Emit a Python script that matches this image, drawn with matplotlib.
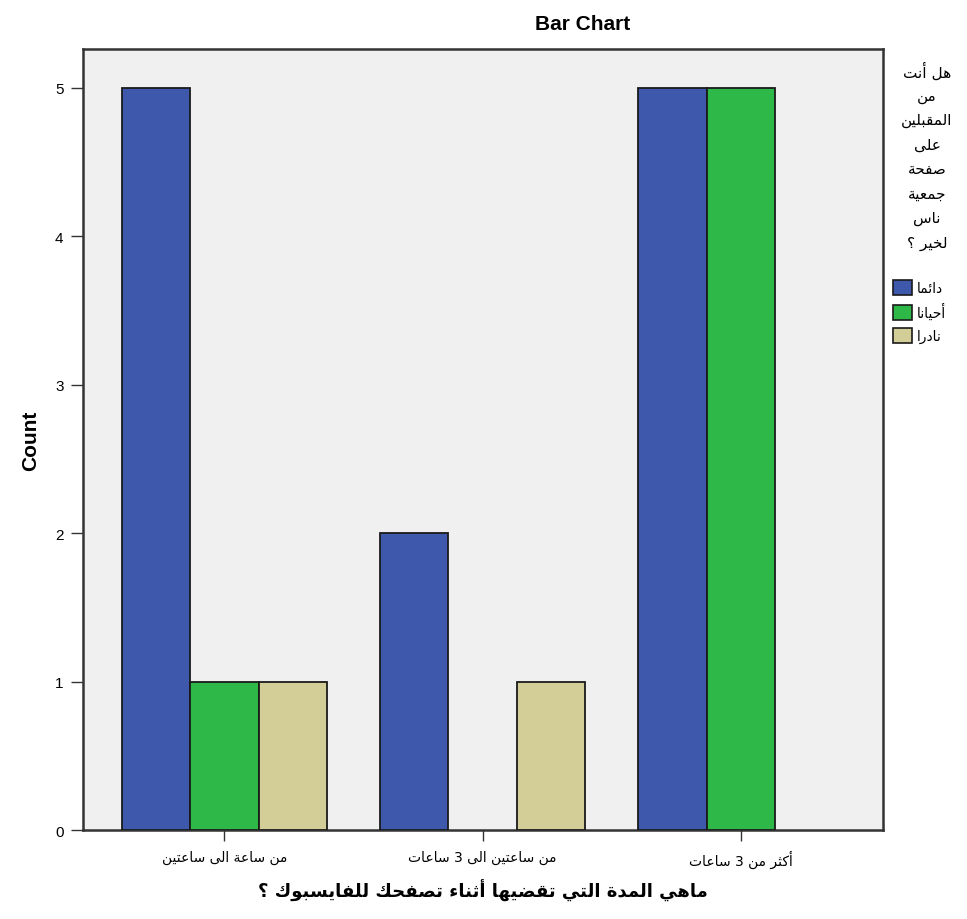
import numpy as np
import matplotlib
matplotlib.use("Agg")
import matplotlib.pyplot as plt
from matplotlib.patches import Patch

# data
categories = ["من ساعة الى ساعتين", "من ساعتين الى 3 ساعات", "أكثر من 3 ساعات"]
series_names = ["دائما", "أحيانا", "نادرا"]
always = [5, 2, 5]
sometimes = [1, 0, 5]
rarely = [1, 1, 0]
legend_title_lines = ["هل أنت", "من", "المقبلين", "على", "صفحة", "جمعية", "ناس", "لخير ؟"]
x_title = "ماهي المدة التي تقضيها أثناء تصفحك للفايسبوك ؟"

colors = ["#3E58AC", "#2EB848", "#D3CE97"]

# minimal arabic shaping: matplotlib does no joining / rtl on its own
DUAL = {'ئ': 0xFE89, 'ب': 0xFE8F, 'ت': 0xFE95, 'ث': 0xFE99, 'ج': 0xFE9D, 'ح': 0xFEA1,
        'خ': 0xFEA5, 'س': 0xFEB1, 'ش': 0xFEB5, 'ص': 0xFEB9, 'ض': 0xFEBD, 'ط': 0xFEC1,
        'ظ': 0xFEC5, 'ع': 0xFEC9, 'غ': 0xFECD, 'ف': 0xFED1, 'ق': 0xFED5, 'ك': 0xFED9,
        'ل': 0xFEDD, 'م': 0xFEE1, 'ن': 0xFEE5, 'ه': 0xFEE9, 'ي': 0xFEF1}
RIGHT = {'آ': 0xFE81, 'أ': 0xFE83, 'ؤ': 0xFE85, 'إ': 0xFE87, 'ا': 0xFE8D, 'ة': 0xFE93,
         'د': 0xFEA9, 'ذ': 0xFEAB, 'ر': 0xFEAD, 'ز': 0xFEAF, 'و': 0xFEED, 'ى': 0xFEEF}
LAMALEF = {'آ': 0xFEF5, 'أ': 0xFEF7, 'إ': 0xFEF9, 'ا': 0xFEFB}


def ar(s):
    toks = []
    i = 0
    while i < len(s):
        c = s[i]
        if c == 'ل' and i + 1 < len(s) and s[i + 1] in LAMALEF:
            toks.append((LAMALEF[s[i + 1]], 'R'))
            i += 2
            continue
        if c in DUAL:
            toks.append((DUAL[c], 'D'))
        elif c in RIGHT:
            toks.append((RIGHT[c], 'R'))
        else:
            toks.append((c, 'N'))
        i += 1
    out = []
    for j, (base, kind) in enumerate(toks):
        if kind == 'N':
            out.append(base)
            continue
        prev_j = j > 0 and toks[j - 1][1] == 'D'
        next_j = kind == 'D' and j + 1 < len(toks) and toks[j + 1][1] in 'DR'
        if kind == 'R':
            off = 1 if prev_j else 0
        else:
            off = {(False, False): 0, (True, False): 1, (False, True): 2, (True, True): 3}[(prev_j, next_j)]
        out.append(chr(base + off))
    return ''.join(out)[::-1]


AR = ['DejaVu Sans']
LAT = ['Liberation Sans', 'DejaVu Sans']

fig = plt.figure(figsize=(9.67, 9.2), dpi=100)
ax = fig.add_axes([0.0858, 0.0967, 0.9131 - 0.0858, 0.9457 - 0.0967])
ax.set_facecolor('#F0F0F0')

x = np.arange(len(categories))
w = 0.265
for k, vals in enumerate([always, sometimes, rarely]):
    vals = np.array(vals, dtype=float)
    m = vals > 0
    ax.bar(x[m] + (k - 1) * w, vals[m], width=w, color=colors[k],
           edgecolor='#1a1a1a', linewidth=1.3, zorder=3)

ax.set_xlim(-0.548, 2.55)
ax.set_ylim(0, 5.263)
ax.set_yticks(range(6))
ax.set_xticks(x)
ax.set_xticklabels([ar(c) for c in categories], fontfamily=AR, fontsize=10)
for lab in ax.get_yticklabels():
    lab.set_fontfamily(LAT)
    lab.set_fontsize(11)
ax.tick_params(axis='y', length=9, width=1, color='#333333', pad=5)
ax.tick_params(axis='x', length=8, width=1, color='#333333', pad=6)
for sp in ax.spines.values():
    sp.set_linewidth(1.8)
    sp.set_color('#333333')

ax.set_ylabel('Count', fontfamily=LAT, fontsize=15, fontweight='bold', labelpad=11)
ax.set_xlabel(ar(x_title), fontfamily=AR, fontsize=13, fontweight='bold', labelpad=8)

fig.text(583 / 967, 1 - 25 / 920, 'Bar Chart', ha='center', va='center',
         fontfamily=LAT, fontsize=15, fontweight='bold')

# legend title, one line at a time like the original
for i, line in enumerate(legend_title_lines):
    fig.text(927 / 967, 1 - (72 + i * 24.5) / 920, ar(line), ha='center', va='center',
             fontfamily=AR, fontsize=11)

handles = [Patch(facecolor=c, edgecolor='#1a1a1a', linewidth=1.2) for c in colors]
fig.legend(handles, [ar(s) for s in series_names], loc='upper left',
           bbox_to_anchor=(893 / 967, 1 - 281 / 920), frameon=False,
           prop={'family': AR, 'size': 10}, handlelength=1.35, handleheight=1.3,
           handletextpad=0.35, labelspacing=0.55, borderpad=0, borderaxespad=0)

fig.savefig('out.png', dpi=100)
